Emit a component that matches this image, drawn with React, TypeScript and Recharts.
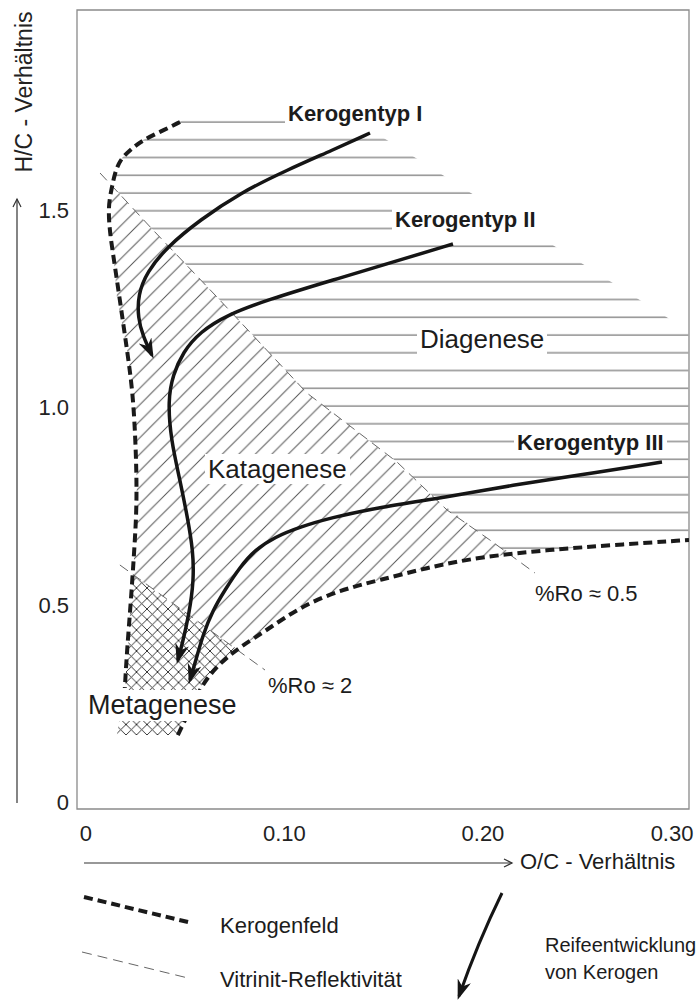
import { ComposedChart, Area, Line, XAxis, YAxis, ReferenceArea } from "recharts";

const FONT = '"Liberation Sans", Arial, sans-serif';

const xTicks = [0, 0.1, 0.2, 0.3];
const yTicks = [0, 0.5, 1.0, 1.5];
const xDomain = [-0.0045, 0.3038];
const yDomain = [-0.0177, 2.0076];

// [O/C, H/C]
const kerogenTyp1 = [
  [0.1431, 1.6958], [0.1244, 1.6527], [0.1013, 1.602], [0.0776, 1.5437], [0.0574, 1.4753],
  [0.0408, 1.4069], [0.0307, 1.3435], [0.0262, 1.2852], [0.0262, 1.2269], [0.0287, 1.1813],
  [0.0332, 1.1331],
];
const kerogenTyp2 = [
  [0.1849, 1.4145], [0.1582, 1.3739], [0.1244, 1.3232], [0.0912, 1.2725], [0.071, 1.2345],
  [0.0574, 1.1914], [0.0489, 1.1407], [0.0438, 1.0824], [0.0413, 1.019], [0.0428, 0.9176],
  [0.0474, 0.8162], [0.0514, 0.7148], [0.0539, 0.6388], [0.0544, 0.5627], [0.0519, 0.474],
  [0.0484, 0.398], [0.0463, 0.36],
];
const kerogenTyp3 = [
  [0.2902, 0.8619], [0.2489, 0.8289], [0.2151, 0.8036], [0.1819, 0.7731], [0.1481, 0.7478],
  [0.1229, 0.7199], [0.1078, 0.6971], [0.0952, 0.6718], [0.0851, 0.6388], [0.0776, 0.5957],
  [0.07, 0.5374], [0.064, 0.4867], [0.0589, 0.4233], [0.0554, 0.36], [0.0524, 0.3093],
];
const kerogenfeldOben = [
  [0.0474, 1.7237], [0.0373, 1.6984], [0.0287, 1.6781], [0.0222, 1.6527], [0.0171, 1.6274],
  [0.0146, 1.5944], [0.0131, 1.5589], [0.0111, 1.5082], [0.0121, 1.4423], [0.0136, 1.3916],
  [0.0171, 1.2725], [0.0207, 1.1458], [0.0237, 1.0368], [0.0252, 0.8923], [0.0257, 0.7655],
  [0.0247, 0.6641], [0.0227, 0.512], [0.0207, 0.3853], [0.0196, 0.289],
];
const kerogenfeldUnten = [
  [0.0463, 0.1698], [0.0524, 0.2332], [0.0589, 0.3016], [0.0675, 0.3523], [0.0776, 0.3929],
  [0.0912, 0.436], [0.1078, 0.4943], [0.128, 0.5374], [0.1481, 0.5627], [0.1733, 0.5957],
  [0.1985, 0.621], [0.2322, 0.6388], [0.2655, 0.6515], [0.3038, 0.6641],
];
const vitrinit05 = [
  [0.0071, 1.5944], [0.0338, 1.4499], [0.066, 1.2801], [0.1113, 1.0368], [0.1567, 0.8619],
  [0.1819, 0.7402], [0.2035, 0.6641], [0.2262, 0.5805],
];
const vitrinit2 = [[0.0171, 0.6008], [0.0902, 0.3346]];

// [H/C, O/C from, O/C to]
const diagenese = [
  [1.7288, 0.0489, 0.135], [1.6984, 0.0373, 0.1451], [1.6781, 0.0287, 0.1516],
  [1.6527, 0.0222, 0.1597], [1.6274, 0.0171, 0.1678], [1.597, 0.0146, 0.1773],
  [1.5615, 0.0134, 0.1884], [1.526, 0.0196, 0.1995], [1.4499, 0.0338, 0.2232],
  [1.2801, 0.066, 0.2766], [1.1939, 0.0821, 0.3035], [1.0368, 0.1113, 0.3035],
  [0.8619, 0.1567, 0.3035], [0.7402, 0.1819, 0.3035], [0.6641, 0.2035, 0.3035],
  [0.6515, 0.2071, 0.2655], [0.6388, 0.2101, 0.2322], [0.6286, 0.2146, 0.2146],
];
const katagenese = [
  [1.5615, 0.0134, 0.0134], [1.526, 0.0116, 0.0196], [1.4499, 0.0121, 0.0338],
  [1.3739, 0.0141, 0.0484], [1.2801, 0.0156, 0.066], [1.1458, 0.0207, 0.0912],
  [1.0368, 0.0237, 0.1113], [0.8923, 0.0252, 0.1486], [0.7655, 0.0257, 0.1768],
  [0.6641, 0.0247, 0.2035], [0.6286, 0.0242, 0.2146], [0.6134, 0.0242, 0.1909],
  [0.5957, 0.0239, 0.1733], [0.5754, 0.0237, 0.1577], [0.5374, 0.0343, 0.128],
  [0.4943, 0.0458, 0.1078], [0.436, 0.062, 0.0912], [0.3878, 0.0761, 0.0761],
];
const metagenese = [
  [0.5754, 0.0237, 0.0237], [0.5374, 0.0232, 0.0343], [0.4943, 0.0224, 0.0458],
  [0.436, 0.0217, 0.062], [0.3878, 0.0212, 0.0761], [0.3523, 0.0204, 0.0675],
  [0.3016, 0.0199, 0.0589], [0.2332, 0.0176, 0.0524], [0.1698, 0.0156, 0.0463],
];

const pts = (rows: number[][]) => rows.map(([oc, hc]) => ({ oc, hc }));
const band = (rows: number[][]) => rows.map(([hc, lo, hi]) => ({ hc, oc: [lo, hi] }));

function XTick({ x, y, payload }: any) {
  const last = payload.value === 0.3;
  return (
    <text x={last ? x + 12 : x} y={y} dy="0.71em" textAnchor={last ? "end" : "middle"}
      fill="#222" fontSize={22} fontFamily={FONT}>
      {payload.value === 0 ? "0" : payload.value.toFixed(2)}
    </text>
  );
}

const label = (text: string, left: number, top: number, size: number, bold = false, bg = true) => (
  <div style={{
    position: "absolute", left, top, fontSize: size, lineHeight: 1, fontWeight: bold ? 700 : 400,
    background: bg ? "#fff" : "transparent", padding: "2px 3px", color: "#1c1c1c", whiteSpace: "nowrap",
  }}>{text}</div>
);

export default function App() {
  return (
    <div style={{ position: "absolute", left: 0, top: 0, width: 698, height: 1005, background: "#fff", fontFamily: FONT }}>
      <svg width={0} height={0} style={{ position: "absolute" }}>
        <defs>
          <pattern id="hatchH" patternUnits="userSpaceOnUse" width={10} height={17.75} y={7.5}>
            <line x1={0} y1={8} x2={10} y2={8} stroke="#555" strokeWidth={1} />
          </pattern>
          <pattern id="hatchD" patternUnits="userSpaceOnUse" width={16.5} height={16.5}>
            <path d="M-4,4 L4,-4 M0,16.5 L16.5,0 M12.5,20.5 L20.5,12.5" stroke="#555" strokeWidth={1} />
          </pattern>
          <pattern id="hatchX" patternUnits="userSpaceOnUse" width={10.5} height={10.5}>
            <path d="M0,10.5 L10.5,0 M-3,3 L3,-3 M7.5,13.5 L13.5,7.5 M0,0 L10.5,10.5 M-3,7.5 L3,13.5 M7.5,-3 L13.5,3"
              stroke="#222" strokeWidth={0.9} />
          </pattern>
          <marker id="kArrow" markerUnits="userSpaceOnUse" markerWidth={22} markerHeight={16}
            refX={16} refY={7} orient="auto">
            <path d="M0,0 L20,7 L0,14 L6,7 Z" fill="#151515" />
          </marker>
          <marker id="thinArrow" markerUnits="userSpaceOnUse" markerWidth={12} markerHeight={10}
            refX={9} refY={5} orient="auto">
            <path d="M1,1 L9,5 L1,9" fill="none" stroke="#333" strokeWidth={1.2} />
          </marker>
        </defs>
      </svg>

      <ComposedChart width={698} height={1005} layout="vertical"
        margin={{ top: 10, right: 9, bottom: 166, left: 17 }}>
        <XAxis type="number" domain={xDomain} ticks={xTicks} allowDataOverflow interval={0}
          axisLine={false} tickLine={false} tickSize={0} tickMargin={16} height={30} tick={<XTick />} />
        <YAxis type="number" dataKey="hc" domain={yDomain} ticks={yTicks} allowDataOverflow interval={0}
          reversed axisLine={false} tickLine={false} tickSize={0} tickMargin={8} width={60}
          tick={{ fill: "#222", fontSize: 22, fontFamily: FONT }}
          tickFormatter={(v: number) => (v === 0 ? "0" : v.toFixed(1))} />

        <Area data={band(diagenese)} dataKey="oc" type="linear" stroke="none" fill="url(#hatchH)"
          fillOpacity={1} isAnimationActive={false} activeDot={false} />
        <Area data={band(katagenese)} dataKey="oc" type="linear" stroke="none" fill="url(#hatchD)"
          fillOpacity={1} isAnimationActive={false} activeDot={false} />
        <Area data={band(metagenese)} dataKey="oc" type="linear" stroke="none" fill="url(#hatchX)"
          fillOpacity={1} isAnimationActive={false} activeDot={false} />

        <ReferenceArea x1={xDomain[0]} x2={xDomain[1]} y1={yDomain[0]} y2={yDomain[1]}
          fill="none" stroke="#8a8a8a" strokeWidth={1.3} />

        <Line data={pts(vitrinit05)} dataKey="oc" type="linear" stroke="#666" strokeWidth={1}
          strokeDasharray="10 6" dot={false} activeDot={false} isAnimationActive={false} />
        <Line data={pts(vitrinit2)} dataKey="oc" type="linear" stroke="#666" strokeWidth={1}
          strokeDasharray="10 6" dot={false} activeDot={false} isAnimationActive={false} />
        <Line data={pts(kerogenfeldOben)} dataKey="oc" type="basis" stroke="#1a1a1a" strokeWidth={4}
          strokeDasharray="9 5" dot={false} activeDot={false} isAnimationActive={false} />
        <Line data={pts(kerogenfeldUnten)} dataKey="oc" type="basis" stroke="#1a1a1a" strokeWidth={4}
          strokeDasharray="9 5" dot={false} activeDot={false} isAnimationActive={false} />

        <Line data={pts(kerogenTyp1)} dataKey="oc" type="basis" stroke="#151515" strokeWidth={3.5}
          markerEnd="url(#kArrow)" dot={false} activeDot={false} isAnimationActive={false} />
        <Line data={pts(kerogenTyp2)} dataKey="oc" type="basis" stroke="#151515" strokeWidth={3.5}
          markerEnd="url(#kArrow)" dot={false} activeDot={false} isAnimationActive={false} />
        <Line data={pts(kerogenTyp3)} dataKey="oc" type="basis" stroke="#151515" strokeWidth={3.5}
          markerEnd="url(#kArrow)" dot={false} activeDot={false} isAnimationActive={false} />
      </ComposedChart>

      <svg width={698} height={1005} style={{ position: "absolute", left: 0, top: 0, pointerEvents: "none" }}>
        <line x1={17} y1={803} x2={17} y2={199} stroke="#333" strokeWidth={1.2} markerEnd="url(#thinArrow)" />
        <text transform="translate(32,92) rotate(-90)" textAnchor="middle" fontSize={23} fill="#222" fontFamily={FONT}>
          H/C - Verhältnis
        </text>
        <line x1={84} y1={863} x2={512} y2={863} stroke="#333" strokeWidth={1.2} markerEnd="url(#thinArrow)" />
        <line x1={84} y1={897} x2={192} y2={923} stroke="#1a1a1a" strokeWidth={4} strokeDasharray="9 5" />
        <line x1={82} y1={952} x2={188} y2={978} stroke="#666" strokeWidth={1} strokeDasharray="10 6" />
        <path d="M502,893 Q478,942 459,996" fill="none" stroke="#151515" strokeWidth={3} markerEnd="url(#kArrow)" />
      </svg>

      {label("Kerogentyp I", 285, 101, 22, true)}
      {label("Kerogentyp II", 392, 207, 22, true)}
      {label("Kerogentyp III", 514, 430, 22, true)}
      {label("Diagenese", 417, 324, 26)}
      {label("Katagenese", 205, 454, 26)}
      {label("Metagenese", 85, 690, 27)}
      {label("%Ro ≈ 2", 265, 673, 22, false, false)}
      {label("%Ro ≈ 0.5", 532, 581, 22, false, false)}
      {label("O/C - Verhältnis", 517, 849, 22, false, false)}
      {label("Kerogenfeld", 217, 913, 22, false, false)}
      {label("Vitrinit-Reflektivität", 217, 967, 22, false, false)}
      {label("Reifeentwicklung", 542, 933, 20, false, false)}
      {label("von Kerogen", 542, 960, 20, false, false)}
    </div>
  );
}
